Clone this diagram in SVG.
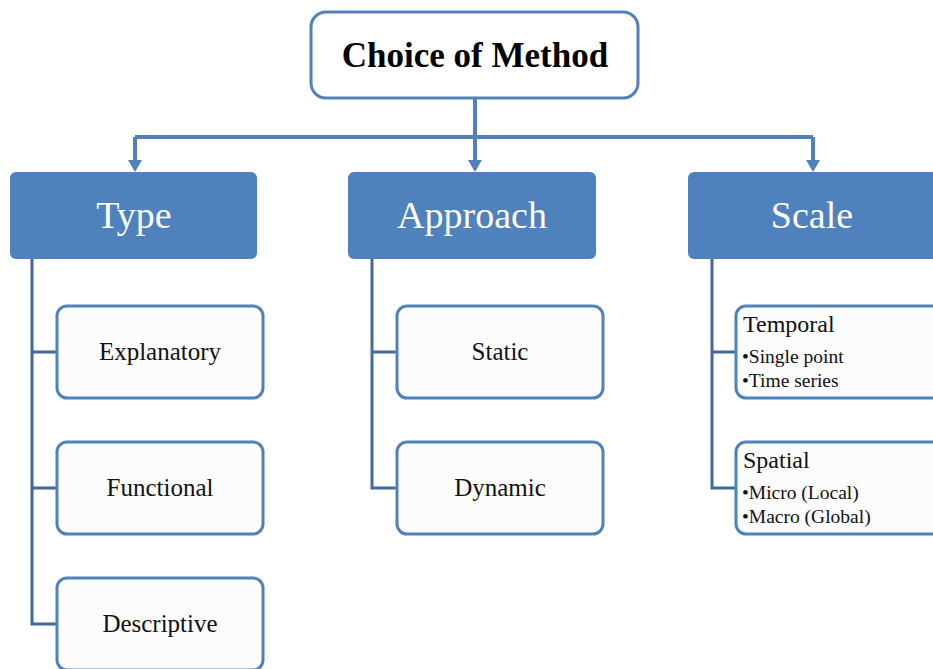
<svg xmlns="http://www.w3.org/2000/svg" width="933" height="669" viewBox="0 0 933 669">
<defs>
<style>
.hdr{fill:#4F81BD;}
.hdrt{font-family:"Liberation Serif",serif;font-size:38px;fill:#fff;text-anchor:middle;}
.child{fill:#FCFCFC;stroke:#4F81BD;stroke-width:3;}
.ct{font-family:"Liberation Serif",serif;font-size:25px;fill:#111;text-anchor:middle;}
.lt{font-family:"Liberation Serif",serif;font-size:24px;fill:#111;}
.bt{font-family:"Liberation Serif",serif;font-size:19.5px;fill:#111;}
.top{stroke:#4F81BD;stroke-width:4;fill:none;}
.trunk{stroke:#41699A;stroke-width:3;fill:none;}
</style>
</defs>
<rect width="933" height="669" fill="#fff"/>
<g id="connectors">
<path class="top" d="M475,99 V137"/>
<path class="top" d="M135,137 H813"/>
<path class="top" d="M135,137 V163"/>
<path class="top" d="M475,137 V163"/>
<path class="top" d="M813,137 V163"/>
<path d="M128,160 L142,160 L135,172 Z" fill="#4F81BD"/>
<path d="M468,160 L482,160 L475,172 Z" fill="#4F81BD"/>
<path d="M806,160 L820,160 L813,172 Z" fill="#4F81BD"/>
<path class="trunk" d="M32,259 V624 H57 M32,352 H57 M32,488 H57"/>
<path class="trunk" d="M372,259 V488 H397 M372,352 H397"/>
<path class="trunk" d="M712,259 V488 H736 M712,352 H736"/>
</g>
<g id="choice">
<rect x="311" y="12" width="327" height="86" rx="15" fill="#fff" stroke="#4F81BD" stroke-width="3"/>
<text x="475" y="67" font-family="Liberation Serif,serif" font-size="35" font-weight="bold" text-anchor="middle" fill="#000">Choice of Method</text>
</g>
<g id="type">
<rect class="hdr" x="10" y="172" width="247" height="87" rx="6"/>
<text class="hdrt" x="134" y="228">Type</text>
</g>
<g id="approach">
<rect class="hdr" x="348" y="172" width="248" height="87" rx="6"/>
<text class="hdrt" x="472" y="228">Approach</text>
</g>
<g id="scale">
<rect class="hdr" x="688" y="172" width="255" height="87" rx="6"/>
<text class="hdrt" x="812" y="228">Scale</text>
</g>
<g id="explanatory">
<rect class="child" x="57" y="306" width="206" height="92" rx="10"/>
<text class="ct" x="160" y="360">Explanatory</text>
</g>
<g id="functional">
<rect class="child" x="57" y="442" width="206" height="92" rx="10"/>
<text class="ct" x="160" y="496">Functional</text>
</g>
<g id="descriptive">
<rect class="child" x="57" y="578" width="206" height="92" rx="10"/>
<text class="ct" x="160" y="632">Descriptive</text>
</g>
<g id="static">
<rect class="child" x="397" y="306" width="206" height="92" rx="10"/>
<text class="ct" x="500" y="360">Static</text>
</g>
<g id="dynamic">
<rect class="child" x="397" y="442" width="206" height="92" rx="10"/>
<text class="ct" x="500" y="496">Dynamic</text>
</g>
<g id="temporal">
<rect class="child" x="736" y="306" width="210" height="92" rx="10"/>
<text class="lt" x="743" y="332">Temporal</text>
<text class="bt" x="742" y="363">•Single point</text>
<text class="bt" x="742" y="387">•Time series</text>
</g>
<g id="spatial">
<rect class="child" x="736" y="442" width="210" height="92" rx="10"/>
<text class="lt" x="743" y="468">Spatial</text>
<text class="bt" x="742" y="499">•Micro (Local)</text>
<text class="bt" x="742" y="523">•Macro (Global)</text>
</g>
</svg>
